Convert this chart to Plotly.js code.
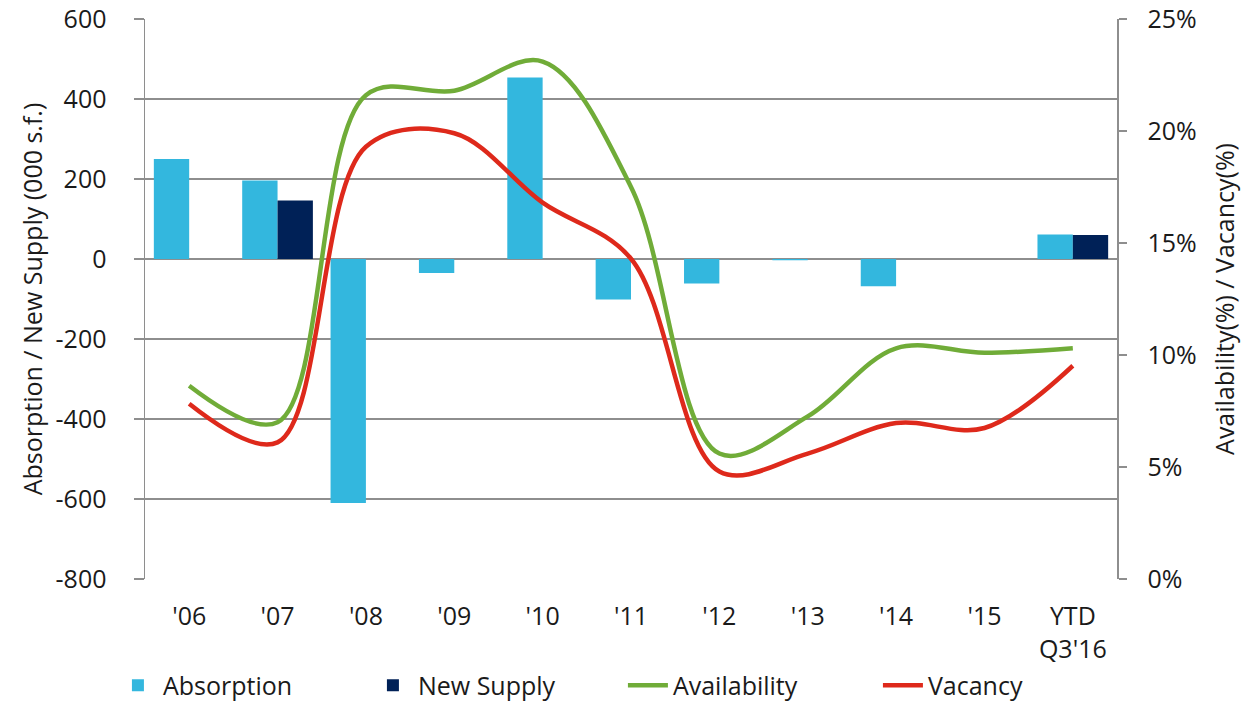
<!DOCTYPE html>
<html>
<head>
<meta charset="utf-8">
<script src="https://cdn.plot.ly/plotly-3.0.1.min.js"></script>
<style>html,body{margin:0;padding:0;background:#fff;}#chart{width:1250px;height:707px;}</style>
</head>
<body>
<div id="chart"></div>
<script>
const categories = ["'06", "'07", "'08", "'09", "'10", "'11", "'12", "'13", "'14", "'15", "YTD<br>Q3'16"];
const absorption = [250, 196, -610, -35, 454, -101, -61, -3, -68, 0, 61];
const newSupply = [null, 146, null, null, null, null, null, null, null, null, 60];
const availability = [8.63, 7.0, 21.6, 21.8, 23.1, 17.5, 5.6, 7.26, 10.3, 10.1, 10.3];
const vacancy = [7.82, 6.1, 19.3, 19.9, 16.8, 14.3, 4.8, 5.6, 6.96, 6.74, 9.52];
const leftTicks = [-800, -600, -400, -200, 0, 200, 400, 600];
const leftTickText = ["-800", "-600", "-400", "-200", "0", "200", "400", "600"];
const rightTicks = [0, 0.05, 0.10, 0.15, 0.20, 0.25];
const rightTickText = ["0%", "5%", "10%", "15%", "20%", "25%"];

const FONT = 'Open Sans, Noto Sans, sans-serif';
const TXT = '#1a1a1a';
const GRID = '#8e8e8e';

const traces = [
  {type: 'bar', name: 'Absorption', x: categories, y: absorption,
   marker: {color: '#33B7DE', line: {width: 0}}, xaxis: 'x', yaxis: 'y'},
  {type: 'bar', name: 'New Supply', x: categories, y: newSupply,
   marker: {color: '#002157', line: {width: 0}}, xaxis: 'x', yaxis: 'y'},
  {type: 'scatter', mode: 'lines', name: 'Availability', x: categories,
   y: availability.map(v => v / 100),
   line: {color: '#70AC38', width: 4.5, shape: 'spline', smoothing: 1}, xaxis: 'x', yaxis: 'y2'},
  {type: 'scatter', mode: 'lines', name: 'Vacancy', x: categories,
   y: vacancy.map(v => v / 100),
   line: {color: '#DE291B', width: 4.5, shape: 'spline', smoothing: 1}, xaxis: 'x', yaxis: 'y2'}
];

const boundaryTicks = categories.slice(0, -1).map((c, i) => i + 0.5);

const layout = {
  width: 1250, height: 707,
  margin: {l: 145, r: 133, t: 19, b: 128, autoexpand: false},
  paper_bgcolor: '#fff', plot_bgcolor: '#fff',
  font: {family: FONT, size: 25, color: TXT},
  showlegend: true,
  barmode: 'group', bargap: 0.2, bargroupgap: 0,
  xaxis: {
    type: 'category', categoryarray: categories, range: [-0.5, categories.length - 0.5],
    showline: false, showgrid: false, zeroline: false, ticks: '',
    ticklabelstandoff: 20, tickfont: {family: FONT, size: 25, color: TXT}, fixedrange: true
  },
  xaxis2: {
    overlaying: 'x', anchor: 'free', position: 800 / 1400,
    range: [-0.5, categories.length - 0.5], tickmode: 'array', tickvals: boundaryTicks,
    ticks: 'outside', ticklen: 7, tickwidth: 1.5, tickcolor: GRID,
    showticklabels: false, showline: false, showgrid: false, zeroline: false
  },
  yaxis: {
    range: [-800, 600], tickmode: 'array', tickvals: leftTicks, ticktext: leftTickText,
    showgrid: true, gridcolor: GRID, gridwidth: 1.5,
    zeroline: true, zerolinecolor: GRID, zerolinewidth: 1.5,
    showline: true, linecolor: GRID, linewidth: 1.5,
    ticks: 'outside', ticklen: 10, tickwidth: 1.5, tickcolor: GRID,
    ticklabelstandoff: 22,
    tickfont: {family: FONT, size: 25, color: TXT},
    title: {text: 'Absorption / New Supply (000 s.f.)', font: {family: FONT, size: 25, color: TXT}, standoff: 6}
  },
  yaxis2: {
    overlaying: 'y', side: 'right', anchor: 'x',
    range: [0, 0.25], tickmode: 'array', tickvals: rightTicks, ticktext: rightTickText,
    showgrid: false, zeroline: false,
    showline: true, linecolor: GRID, linewidth: 1.5,
    ticks: 'outside', ticklen: 8, tickwidth: 1.5, tickcolor: GRID,
    ticklabelstandoff: 16,
    tickfont: {family: FONT, size: 25, color: TXT},
    title: {text: 'Availability(%) / Vacancy(%)', font: {family: FONT, size: 25, color: TXT}, standoff: 20}
  },
  legend: {
    orientation: 'h', x: -0.033, xanchor: 'left', y: -0.19, yanchor: 'middle',
    font: {family: FONT, size: 25, color: TXT},
    entrywidth: 200, entrywidthmode: 'pixels', itemwidth: 40,
    bgcolor: 'rgba(0,0,0,0)', traceorder: 'normal'
  }
};

Plotly.newPlot('chart', traces, layout, {displayModeBar: false, staticPlot: true});
</script>
</body>
</html>
